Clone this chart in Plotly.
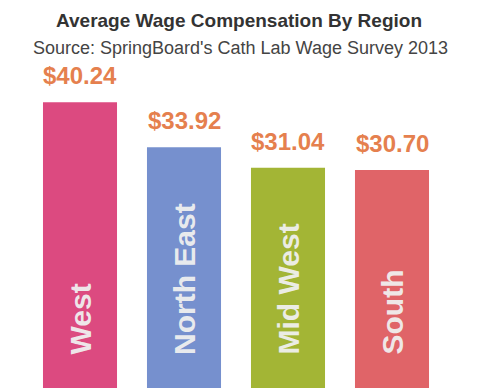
import plotly.graph_objects as go

regions = ["West", "North East", "Mid West", "South"]
wages = [40.24, 33.92, 31.04, 30.70]
value_labels = ["$40.24", "$33.92", "$31.04", "$30.70"]
colors = ["#DC4A80", "#7690CE", "#A3B535", "#E06468"]

FONT = "Liberation Sans, Arial"

fig = go.Figure()
fig.add_trace(go.Bar(
    x=regions, y=wages,
    marker=dict(color=colors, line=dict(width=0)),
    hoverinfo="skip",
))

for r, v, lab in zip(regions, wages, value_labels):
    fig.add_annotation(x=r, y=v, text="<b>" + lab + "</b>", showarrow=False, yanchor="bottom",
                       yshift=11, font=dict(family=FONT, size=24, color="#E5804E"))
    fig.add_annotation(x=r, y=0, text="<b>" + r + "</b>", showarrow=False, textangle=-90,
                       yanchor="bottom", yshift=31,
                       font=dict(family=FONT, size=30, color="rgba(240,240,240,0.95)"))

fig.add_annotation(xref="paper", yref="paper", x=(239 - 28) / 416, y=1, yshift=70 - 20,
                   text="<b>Average Wage Compensation By Region</b>", showarrow=False,
                   xanchor="center", yanchor="middle",
                   font=dict(family=FONT, size=19, color="#333333"))
fig.add_annotation(xref="paper", yref="paper", x=(240 - 28) / 416, y=1, yshift=70 - 48,
                   text="Source: SpringBoard's Cath Lab Wage Survey 2013", showarrow=False,
                   xanchor="center", yanchor="middle",
                   font=dict(family=FONT, size=18, color="#444444"))

fig.update_layout(
    width=479, height=391,
    margin=dict(l=28, r=35, t=70, b=3),
    paper_bgcolor="white", plot_bgcolor="white",
    showlegend=False, bargap=0.288,
    xaxis=dict(showticklabels=False, showgrid=False, zeroline=False, showline=False, ticks=""),
    yaxis=dict(range=[0, 44.8], showticklabels=False, showgrid=False, zeroline=False, showline=False),
)

fig.write_html("out.html", config={"displayModeBar": False},
               post_script="document.body.style.margin='0';")
